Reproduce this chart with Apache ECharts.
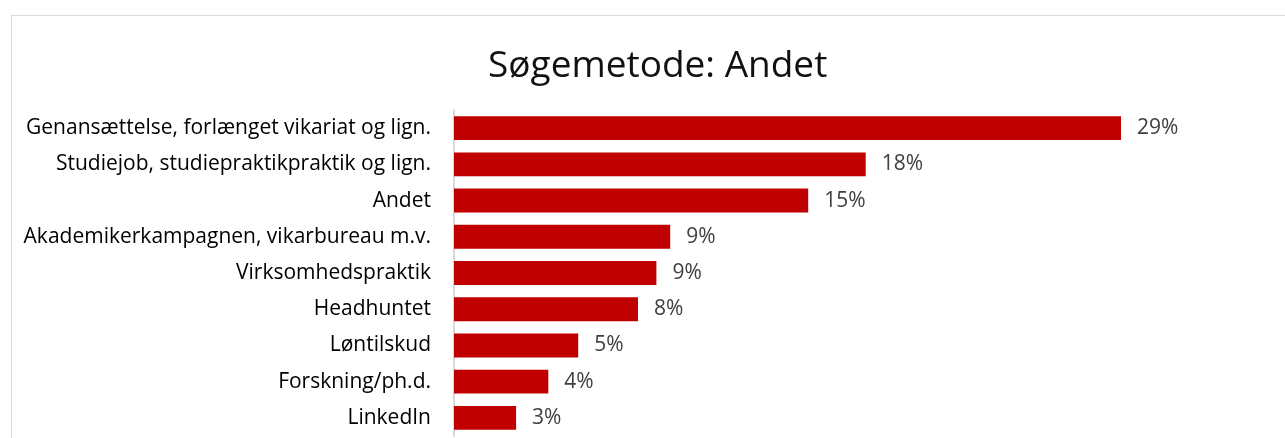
<!DOCTYPE html>
<html>
<head>
<meta charset="utf-8">
<script src="https://cdn.jsdelivr.net/npm/echarts@6/dist/echarts.min.js"></script>
<style>
  html, body { margin: 0; padding: 0; background: #fff; }
  #frame {
    position: absolute; left: 11px; top: 15px; width: 1300px; height: 450px;
    border: 1px solid #d9d9d9; box-sizing: border-box;
  }
  #chart { position: absolute; left: 0; top: 0; width: 1285px; height: 438px; }
</style>
</head>
<body>
<div id="frame"></div>
<div id="chart"></div>
<script>
// Søgemetode: Andet — andel i procent
const categories = [
  "Genansættelse, forlænget vikariat og lign.",
  "Studiejob, studiepraktikpraktik og lign.",
  "Andet",
  "Akademikerkampagnen, vikarbureau m.v.",
  "Virksomhedspraktik",
  "Headhuntet",
  "Løntilskud",
  "Forskning/ph.d.",
  "LinkedIn",
];
const values = [29.0, 17.9, 15.4, 9.4, 8.8, 8.0, 5.4, 4.1, 2.7];

const chart = echarts.init(document.getElementById("chart"));
chart.setOption({
  backgroundColor: "transparent",
  animation: false,
  title: {
    text: "Søgemetode: Andet",
    left: 483,
    top: 43,
    textStyle: {
      fontFamily: "Open Sans",
      fontSize: 37,
      fontWeight: "normal",
      color: "#111",
    },
  },
  grid: {
    left: 454,
    top: 110,
    right: 141,
    bottom: 2,
  },
  xAxis: {
    type: "value",
    min: 0,
    max: 30,
    show: false,
  },
  yAxis: {
    type: "category",
    inverse: true,
    data: categories,
    axisTick: { show: false },
    axisLine: {
      lineStyle: { color: "#d9d9d9", width: 2 },
    },
    axisLabel: {
      margin: 23,
      color: "#000",
      fontSize: 21,
      fontFamily: "Open Sans",
    },
  },
  series: [
    {
      type: "bar",
      data: values,
      barCategoryGap: "34%",
      itemStyle: { color: "#c00000" },
      label: {
        show: true,
        position: "right",
        distance: 16,
        color: "#404040",
        fontSize: 21,
        fontFamily: "Open Sans",
        formatter: (p) => Math.round(p.value) + "%",
      },
    },
  ],
});
</script>
</body>
</html>
